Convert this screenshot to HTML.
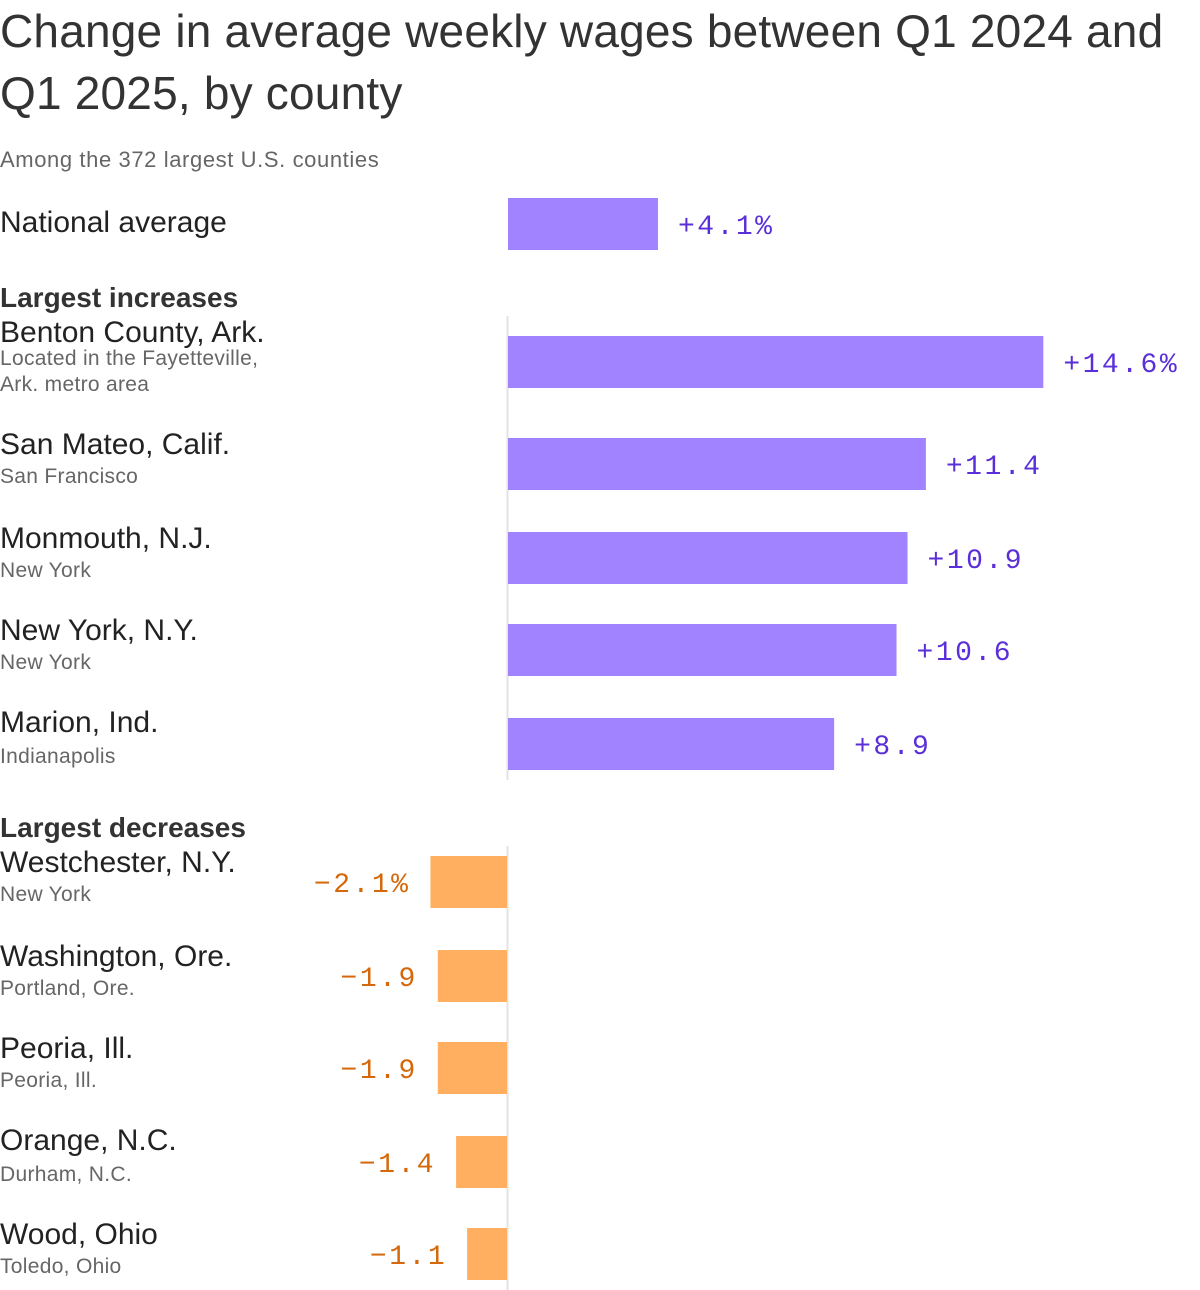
<!DOCTYPE html>
<html><head><meta charset="utf-8"><style>
body{margin:0;background:#fff;width:1200px;height:1290px;position:relative;overflow:hidden;font-family:"Liberation Sans",sans-serif;color:#333}
.a{position:absolute;white-space:nowrap}
h1{position:absolute;left:0;top:0px;margin:0;font-weight:400;font-size:46px;line-height:62px;letter-spacing:0.2px;color:#333;white-space:nowrap}
.n{font-size:30px;color:#222;letter-spacing:0}
.s{font-size:21px;color:#666;line-height:26px;letter-spacing:0.3px}
.h{font-size:28px;font-weight:700;color:#333;letter-spacing:0}
</style></head><body>
<h1>Change in average weekly wages between Q1 2024 and<br>Q1 2025, by county</h1>
<div class="a s" style="left:0;top:147px;font-size:22px;letter-spacing:0.6px">Among the 372 largest U.S. counties</div>
<div class="a n" style="left:0;top:206px">National average</div>
<div class="a h" style="left:0;top:282px">Largest increases</div>
<div class="a n" style="left:0;top:316px">Benton County, Ark.</div>
<div class="a s" style="left:0;top:346px">Located in the Fayetteville,<br>Ark. metro area</div>
<div class="a n" style="left:0;top:428px">San Mateo, Calif.</div>
<div class="a s" style="left:0;top:464px">San Francisco</div>
<div class="a n" style="left:0;top:522px">Monmouth, N.J.</div>
<div class="a s" style="left:0;top:558px">New York</div>
<div class="a n" style="left:0;top:614px">New York, N.Y.</div>
<div class="a s" style="left:0;top:650px">New York</div>
<div class="a n" style="left:0;top:706px">Marion, Ind.</div>
<div class="a s" style="left:0;top:744px">Indianapolis</div>
<div class="a h" style="left:0;top:812px">Largest decreases</div>
<div class="a n" style="left:0;top:846px">Westchester, N.Y.</div>
<div class="a s" style="left:0;top:882px">New York</div>
<div class="a n" style="left:0;top:940px">Washington, Ore.</div>
<div class="a s" style="left:0;top:976px">Portland, Ore.</div>
<div class="a n" style="left:0;top:1032px">Peoria, Ill.</div>
<div class="a s" style="left:0;top:1068px">Peoria, Ill.</div>
<div class="a n" style="left:0;top:1124px">Orange, N.C.</div>
<div class="a s" style="left:0;top:1162px">Durham, N.C.</div>
<div class="a n" style="left:0;top:1218px">Wood, Ohio</div>
<div class="a s" style="left:0;top:1254px">Toledo, Ohio</div>
<svg id="c" class="a" style="left:0;top:0" width="1200" height="1290"></svg>
<script>
const values=[4.1,14.6,11.4,10.9,10.6,8.9,-2.1,-1.9,-1.9,-1.4,-1.1];
const valueLabels=["+4.1%","+14.6%","+11.4","+10.9","+10.6","+8.9","\u22122.1%","\u22121.9","\u22121.9","\u22121.4","\u22121.1"];
const barNames=["national","benton","san-mateo","monmouth","new-york","marion","westchester","washington","peoria","orange","wood"];
const rowTops=[198,336,438,532,624,718,856,950,1042,1136,1228];
const svg=document.getElementById('c');
const NS='http://www.w3.org/2000/svg';
const x0=507.5,k=36.7;
const x=v=>x0+v*k;
function mk(t,a){const e=document.createElementNS(NS,t);for(const q in a)e.setAttribute(q,a[q]);svg.appendChild(e);return e;}
const ax1=mk('line',{x1:x0,x2:x0,y1:316,y2:780,stroke:'#e3e3e3','stroke-width':2});


const ax2=mk('line',{x1:x0,x2:x0,y1:846,y2:1290,stroke:'#e3e3e3','stroke-width':2});


values.forEach((v,i)=>{
  const pos=v>=0,xa=Math.min(x(0),x(v))+(pos?0.5:0),w=Math.abs(x(v)-x(0))-0.5;
  const r=mk('rect',{x:xa,y:rowTops[i],width:w,height:52,fill:pos?'#a183ff':'#ffaf5f'});
  
  
  const t=mk('text',{x:pos?x(v)+20:x(v)-20,y:rowTops[i]+36,'text-anchor':pos?'start':'end',fill:pos?'#5a2fd9':'#d4680a','font-family':'Liberation Mono, monospace','font-size':28,'letter-spacing':2.5});
  t.textContent=valueLabels[i];
  
  
});
</script>
</body></html>
